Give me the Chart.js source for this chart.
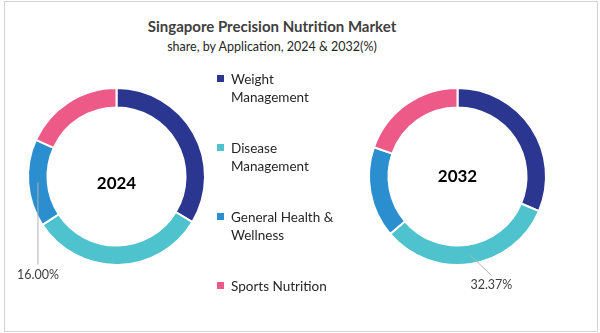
<!DOCTYPE html>
<html>
<head>
<meta charset="utf-8">
<script src="https://cdn.jsdelivr.net/npm/chart.js"></script>
<style>
  body { margin: 0; background: #fff; }
  #wrap { position: relative; width: 600px; height: 333px; overflow: hidden; font-family: Lato, "Open Sans", sans-serif; }
  #frame { position: absolute; left: 4px; top: 1px; width: 592px; height: 329px; border: 1px solid #d4d4d4; }
  #title { position: absolute; left: 0; width: 544px; top: 17px; text-align: center; font-size: 15px; font-weight: bold; color: #404040; }
  #subtitle { position: absolute; left: 0; width: 544px; top: 39px; text-align: center; font-size: 12.5px; color: #262626; }
  .donut { position: absolute; }
  #legend { position: absolute; left: 217px; top: 70px; width: 130px; }
  .item { position: absolute; left: 0; font-size: 13.5px; line-height: 18px; color: #262626; padding-left: 14px; }
  .item i { position: absolute; left: 0; top: 5px; width: 7px; height: 7px; }
</style>
</head>
<body>
<div id="wrap">
  <div id="frame"></div>
  <div id="title">Singapore Precision Nutrition Market</div>
  <div id="subtitle">share, by Application, 2024 &amp; 2032(%)</div>
  <canvas id="c2024" class="donut" style="left:0;top:66px;width:232px;height:230px"></canvas>
  <canvas id="c2032" class="donut" style="left:341px;top:66px;width:240px;height:230px"></canvas>
  <div id="legend"></div>
</div>
<script>
const categories = ['Weight Management', 'Disease Management', 'General Health & Wellness', 'Sports Nutrition'];
const legendLines = [['Weight', 'Management'], ['Disease', 'Management'], ['General Health &', 'Wellness'], ['Sports Nutrition']];
const years = ['2024', '2032'];
const share2024 = [33.6, 32.2, 16.0, 18.2];
const share2032 = [31.4, 32.37, 16.6, 19.63];
const colors = ['#2b3691', '#4ec3cd', '#2a8ecf', '#ee5a88'];

// legend
const legend = document.getElementById('legend');
const legendTops = [0, 69, 138, 207];
legendLines.forEach(function(lines, i) {
  const d = document.createElement('div');
  d.className = 'item';
  d.style.top = legendTops[i] + 'px';
  d.innerHTML = '<i style="background:' + colors[i] + '"></i>' + lines.map(function(s) {
    return s.replace('&', '&amp;');
  }).join('<br>');
  legend.appendChild(d);
});

// center year + one callout label per donut
const donutText = {
  id: 'donutText',
  afterDraw: function(chart) {
    const o = chart.options.plugins.donutText;
    const ctx = chart.ctx;
    const arc = chart.getDatasetMeta(0).data[0];
    ctx.save();
    ctx.fillStyle = '#000';
    ctx.font = 'bold 17px Lato, sans-serif';
    ctx.textAlign = 'center';
    ctx.textBaseline = 'middle';
    ctx.fillText(o.year, arc.x, arc.y + o.yearDy);

    const a = chart.getDatasetMeta(0).data[o.index];
    const mid = (a.startAngle + a.endAngle) / 2;
    const r = (a.innerRadius + a.outerRadius) / 2;
    const x0 = a.x + Math.cos(mid) * r;
    const y0 = a.y + Math.sin(mid) * r;
    const x1 = x0 + o.dx, y1 = y0 + o.dy;
    ctx.strokeStyle = '#b0b0b0';
    ctx.lineWidth = 1;
    ctx.beginPath();
    ctx.moveTo(x0, y0);
    ctx.lineTo(x1, y1);
    ctx.stroke();
    ctx.fillStyle = '#404040';
    ctx.font = '12.5px Lato, sans-serif';
    const v = chart.data.datasets[0].data[o.index];
    ctx.fillText(v.toFixed(2) + '%', x1 + o.tx, y1 + o.ty);
    ctx.restore();
  }
};

function makeDonut(id, values, year, label, pad) {
  return new Chart(document.getElementById(id), {
    type: 'doughnut',
    data: {
      labels: categories,
      datasets: [{
        data: values,
        backgroundColor: colors,
        borderColor: '#fff',
        borderWidth: 2
      }]
    },
    options: {
      responsive: false,
      animation: false,
      cutout: '78%',
      layout: { padding: pad },
      plugins: {
        legend: { display: false },
        tooltip: { enabled: false },
        donutText: Object.assign({ year: year }, label)
      }
    },
    plugins: [donutText]
  });
}

function sizeCanvas(id) {
  const c = document.getElementById(id);
  c.width = parseInt(c.style.width);
  c.height = parseInt(c.style.height);
}
sizeCanvas('c2024');
sizeCanvas('c2032');

makeDonut('c2024', share2024, years[0],
  { index: 2, dx: 0, dy: 82, tx: 0, ty: 11, yearDy: 7 },
  { left: 27, right: 26, top: 21, bottom: 30 });
makeDonut('c2032', share2032, years[1],
  { index: 1, dx: 22, dy: 21, tx: 0, ty: 10, yearDy: 0 },
  { left: 27, right: 34, top: 21, bottom: 30 });
</script>
</body>
</html>
